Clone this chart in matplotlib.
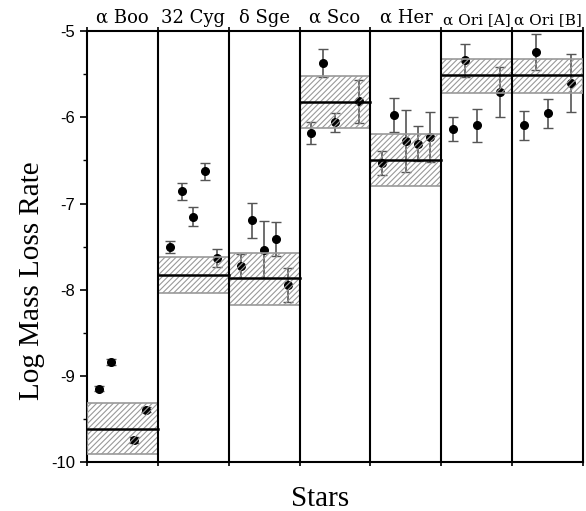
import numpy as np
import matplotlib.pyplot as plt

# estrellas y mediciones (posición dentro del panel = número de hueco 1..5)
stars = ['α Boo', '32 Cyg', 'δ Sge', 'α Sco', 'α Her', 'α Ori [A]', 'α Ori [B]']

boo_slot = [1, 2, 4, 5]
boo_val = [-9.15, -8.84, -9.745, -9.395]
boo_err = [0.03, 0.03, 0.03, 0.03]

cyg_slot = [1, 2, 3, 4, 5]
cyg_val = [-7.50, -6.856, -7.154, -6.624, -7.633]
cyg_err = [0.07, 0.10, 0.11, 0.10, 0.10]

sge_slot = [1, 2, 3, 4, 5]
sge_val = [-7.722, -7.196, -7.537, -7.41, -7.943]
sge_err = [0.14, 0.20, 0.33, 0.20, 0.20]

sco_slot = [1, 2, 3, 5]
sco_val = [-6.183, -5.371, -6.056, -5.812]
sco_err = [0.13, 0.16, 0.11, 0.25]

her_slot = [1, 2, 3, 4, 5]
her_val = [-6.531, -5.974, -6.276, -6.307, -6.233]
her_err = [0.14, 0.20, 0.36, 0.205, 0.29]

oria_slot = [1, 2, 3, 5]
oria_val = [-6.137, -5.336, -6.094, -5.711]
oria_err = [0.14, 0.19, 0.19, 0.29]

orib_slot = [1, 2, 3, 5]
orib_val = [-6.094, -5.244, -5.955, -5.60]
orib_err = [0.17, 0.21, 0.17, 0.34]

slots = [boo_slot, cyg_slot, sge_slot, sco_slot, her_slot, oria_slot, orib_slot]
vals = [boo_val, cyg_val, sge_val, sco_val, her_val, oria_val, orib_val]
errs = [boo_err, cyg_err, sge_err, sco_err, her_err, oria_err, orib_err]

# banda (media y rango)
band_mid = [-9.617, -7.83, -7.87, -5.824, -6.489, -5.507, -5.507]
band_lo = [-9.91, -8.035, -8.179, -6.129, -6.795, -5.716, -5.716]
band_hi = [-9.31, -7.625, -7.572, -5.522, -6.191, -5.317, -5.317]

#%%
plt.rcParams['hatch.linewidth'] = 0.8
plt.rcParams['hatch.color'] = '#777777'

fig = plt.figure(figsize=(5.86, 5.11), dpi=100)
ax = fig.add_axes([0.1485, 0.0959, 0.8465, 0.843])

for i in range(len(stars)):
    x = i + np.array(slots[i]) / 6
    ax.errorbar(x, vals[i], yerr=errs[i], fmt='o', color='black', ms=5.5,
                ecolor='#555555', elinewidth=1.2, capsize=3.5, capthick=1.0, zorder=2)
    ax.fill_between([i, i + 1], band_lo[i], band_hi[i], facecolor='none',
                    edgecolor='#999999', hatch='//////', linewidth=1.2, zorder=3)
    ax.plot([i, i + 1], [band_mid[i], band_mid[i]], color='black', lw=1.8, zorder=4)
    fs = 11 if 'Ori' in stars[i] else 13
    ax.text(i + 0.5, -4.95, stars[i], ha='center', va='bottom', fontsize=fs,
            family='DejaVu Serif')

for i in range(1, len(stars)):
    ax.axvline(i, color='black', lw=1.5, zorder=5)

ax.set_xlim(0, 7)
ax.set_ylim(-10, -5)
ax.set_xticks(np.arange(8))
ax.set_xticklabels([])
ax.tick_params(axis='x', which='both', top=True, bottom=True, direction='inout', length=6, width=1.2)
ax.set_yticks([-10, -9, -8, -7, -6, -5])
ax.set_yticklabels(['-10', '-9', '-8', '-7', '-6', '-5'], family='Liberation Sans')
ax.set_yticks(np.arange(-9.5, -5, 1), minor=True)
ax.tick_params(axis='y', which='major', direction='out', length=5, width=1.2, labelsize=12)
ax.tick_params(axis='y', which='minor', direction='out', length=3, width=1.0)
for s in ax.spines.values():
    s.set_linewidth(1.5)

ax.set_ylabel('Log Mass Loss Rate', family='Liberation Serif', fontsize=21, va='center')
ax.yaxis.set_label_coords(-0.11, 0.42)
fig.text(320 / 586, 1 - 499 / 511, 'Stars', ha='center', va='center',
         family='Liberation Serif', fontsize=21)

fig.savefig('out.png', dpi=100)
